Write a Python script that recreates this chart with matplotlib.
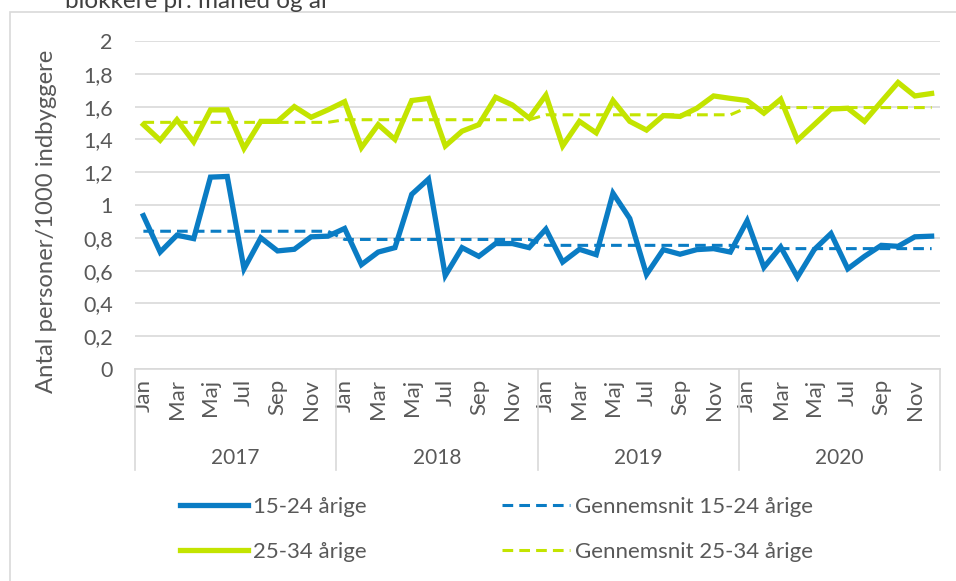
import numpy as np
import matplotlib.pyplot as plt
from matplotlib.patches import Rectangle

plt.rcParams['font.family'] = ['Lato', 'DejaVu Sans']

years = ['2017', '2018', '2019', '2020']
months = ['Jan', 'Feb', 'Mar', 'Apr', 'Maj', 'Jun', 'Jul', 'Aug', 'Sep', 'Okt', 'Nov', 'Dec']

# 15-24 årige, monthly values 2017-2020
young = [0.935, 0.713, 0.816, 0.795, 1.17, 1.174, 0.611, 0.80, 0.72, 0.73, 0.806, 0.81,
         0.857, 0.636, 0.713, 0.74, 1.065, 1.158, 0.57, 0.74, 0.687, 0.765, 0.765, 0.74,
         0.853, 0.652, 0.73, 0.697, 1.072, 0.918, 0.576, 0.728, 0.70, 0.728, 0.734, 0.713,
         0.904, 0.62, 0.744, 0.56, 0.728, 0.826, 0.611, 0.687, 0.754, 0.748, 0.806, 0.81]
# 25-34 årige
older = [1.49, 1.395, 1.52, 1.385, 1.58, 1.58, 1.345, 1.51, 1.51, 1.60, 1.535, 1.58,
         1.63, 1.35, 1.49, 1.40, 1.637, 1.65, 1.36, 1.45, 1.49, 1.657, 1.61, 1.53,
         1.67, 1.36, 1.51, 1.44, 1.637, 1.51, 1.457, 1.545, 1.54, 1.59, 1.665, 1.65,
         1.637, 1.56, 1.645, 1.395, 1.49, 1.585, 1.59, 1.51, 1.63, 1.747, 1.665, 1.68]
# yearly averages
young_avg = [0.84, 0.79, 0.754, 0.734]
older_avg = [1.504, 1.52, 1.55, 1.594]

blue = '#0A7CC4'
green = '#C3E400'
grey = '#595959'
grid = '#D9D9D9'

fig = plt.figure(figsize=(9.56, 5.81), dpi=100)
ax = fig.add_axes([135/956, 1-369/581, 805/956, 328/581])

n = len(young)
x = np.arange(n)
young_avg_m = np.repeat(young_avg, 12)
older_avg_m = np.repeat(older_avg, 12)

ax.plot(x, young, color=blue, lw=3.8, solid_joinstyle='miter', label='15-24 årige', zorder=3)
ax.plot(x, older, color=green, lw=3.8, solid_joinstyle='miter', label='25-34 årige', zorder=3)
ax.plot(x, young_avg_m, color=blue, lw=2.2, ls=(0, (3.5, 2)), label='Gennemsnit 15-24 årige', zorder=2)
ax.plot(x, older_avg_m, color=green, lw=2.2, ls=(0, (3.5, 2)), label='Gennemsnit 25-34 årige', zorder=2)

ax.set_xlim(-0.5, n - 0.5)
ax.set_ylim(0, 2)
yt = np.round(np.arange(0, 2.01, 0.2), 1)
ax.set_yticks(yt)
ax.set_yticklabels([f'{v:g}'.replace('.', ',') for v in yt])
ax.yaxis.grid(True, color=grid, lw=1.2)
ax.set_axisbelow(True)
for s in ['top', 'right', 'left']:
    ax.spines[s].set_visible(False)
ax.spines['bottom'].set_color(grid)
ax.spines['bottom'].set_linewidth(1.2)

xt = [i for i in range(n) if i % 2 == 0]
ax.set_xticks(xt)
ax.set_xticklabels([months[i % 12] for i in xt], rotation=90, va='top')
ax.tick_params(axis='x', length=0, pad=7, labelsize=16, labelcolor=grey)
ax.tick_params(axis='y', length=0, pad=16, labelsize=15.5, labelcolor=grey)

trans = ax.get_xaxis_transform()
for k, yr in enumerate(years):
    ax.text(k * 12 + 5.5, -0.271, yr, transform=trans, ha='center', va='center',
            fontsize=15, color=grey)
for k in range(len(years) + 1):
    ax.plot([k * 12 - 0.5] * 2, [0, -0.308], transform=trans, color=grid, lw=1.2, clip_on=False)

fig.text(47/956, 1-221/581, 'Antal personer/1000 indbyggere', rotation=90,
         ha='center', va='center', fontsize=17.2, color=grey)

fig.text(65/956, 1-7.5/581, 'blokkere pr. måned og år', ha='left', va='baseline',
         fontsize=17.5, color='#404040')
fig.add_artist(Rectangle((10/956, -0.1), 2, 1-12/581+0.1, transform=fig.transFigure,
                         fill=False, edgecolor=grid, lw=1.2))

handles, labels = ax.get_legend_handles_labels()
fig.legend(handles, labels, ncol=2,
           loc='upper left', bbox_to_anchor=(180/956, 1-497/581), frameon=False,
           fontsize=16, labelcolor=grey, handlelength=3.06, handletextpad=0.23,
           columnspacing=6.1, labelspacing=1.13, borderpad=0, borderaxespad=0)

fig.savefig('out.png', dpi=100)
